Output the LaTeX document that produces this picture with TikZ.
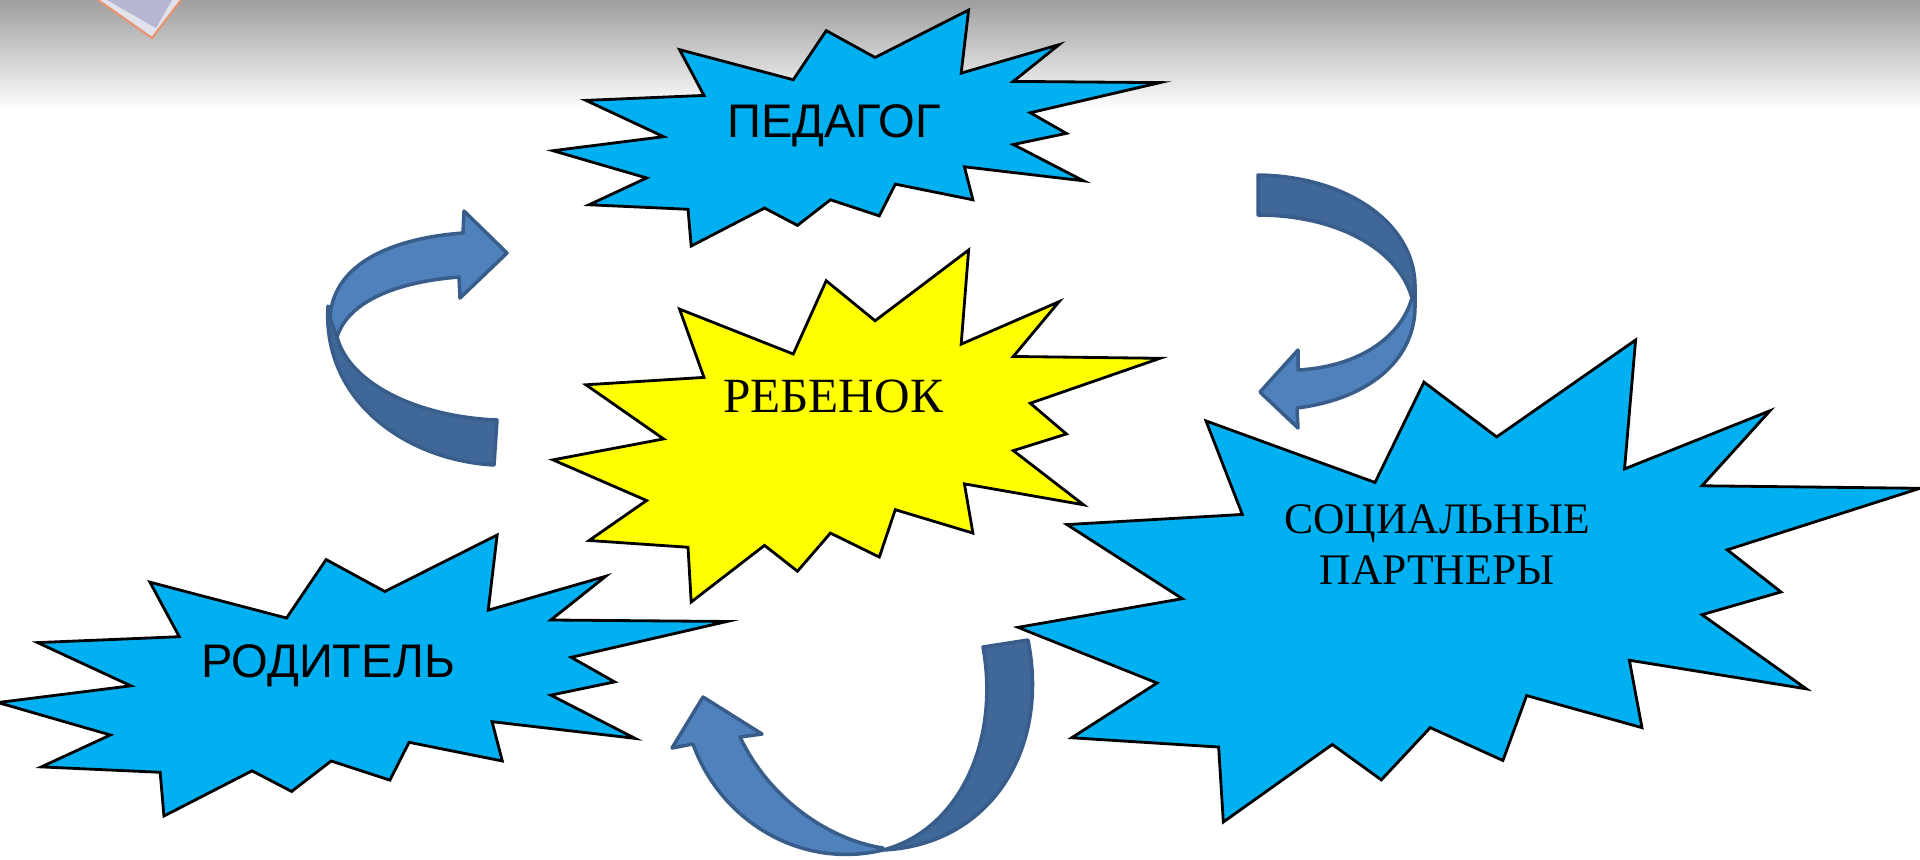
\documentclass[tikz,border=0pt]{standalone}
\usepackage{fontspec}
\setmainfont{Liberation Serif}
\setsansfont{Liberation Sans}
\usepackage{tikz}
\usepackage{xcolor}
\definecolor{sealblue}{HTML}{00B0F0}
\definecolor{sealyellow}{HTML}{FFFF00}
\definecolor{arrowfront}{HTML}{4F81BD}
\definecolor{arrowback}{HTML}{3F6797}
\definecolor{arrowline}{HTML}{385D8A}
\definecolor{bevelline}{HTML}{E8946E}
\definecolor{beveltop}{HTML}{B4B6D2}
\definecolor{bevelside}{HTML}{E2E2EC}
\newcommand{\sealshape}[5]{%
\draw [seal-a, fill=#1, shift={(#2,#3)}, xscale=#4/216, yscale=#5/216]
  (114.62,43.42) -- (147.90,0) -- (145.25,57.77) -- (180.07,31.72) -- (163.80,65.32)
  -- (216,66.45) -- (169.85,94.02) -- (182.70,112.90) -- (163.80,123.10) -- (188.77,156.32)
  -- (146.40,143.50) -- (149.42,173.70) -- (121.80,159.35) -- (116.12,188.42) -- (98.72,173.70)
  -- (87.00,197.12) -- (75.27,181.25) -- (49.17,216) -- (48.05,182.40) -- (12.85,178.25)
  -- (33.30,153.70) -- (0,128.77) -- (39.35,115.92) -- (11.72,82.70) -- (53.72,78.17)
  -- (45.02,36.25) -- (85.50,63.82) -- (97.22,18.87) -- cycle;}

\begin{document}
\begin{tikzpicture}
[
x=0.01cm, y=-0.01cm,
seal-a/.style={draw=black, line width=0.8pt, line join=miter},
text-a/.style={black, anchor=base, font=\sffamily\fontsize{13.4}{16}\selectfont},
text-b/.style={black, anchor=base, font=\rmfamily\fontsize{14}{17}\selectfont},
text-c/.style={black, align=center, font=\rmfamily\fontsize{12.4}{14.5}\selectfont},
arrow-front/.style={fill=arrowfront, draw=arrowline, line width=1pt, line join=round},
arrow-back/.style={fill=arrowback, draw=arrowline, line width=1pt, line join=round}
]
\useasboundingbox (0,0) rectangle (1920,859);
\shade [top color=black!38, bottom color=white] (0,0) rectangle (1920,110);
\draw [fill=bevelside, draw=bevelline, line width=0.6pt] (98,0) -- (152,38) -- (181,0);
\fill [beveltop] (107,0) -- (156,28) -- (172,0) -- cycle;

\sealshape{sealblue}{553}{10}{607}{236}
\sealshape{sealyellow}{553}{250}{607}{352}
\sealshape{sealblue}{-2}{535}{729}{281}
\sealshape{sealblue}{1018}{340}{902}{482}

\draw [arrow-back]  (328,306) .. controls (322,400) and (405,460) .. (494,465) -- (497,420)
                    .. controls (420,417) and (350,385) .. (337,337) -- cycle;
\draw [arrow-front] (330,318) .. controls (333,262) and (395,238) .. (463,233) -- (464,211)
                    -- (507,253) -- (460,298) -- (459,277)
                    .. controls (395,282) and (348,302) .. (337,337) -- cycle;

\draw [arrow-back]  (1258,175) .. controls (1345,176) and (1414,222) .. (1415,285) -- (1412,298)
                    .. controls (1398,248) and (1335,215) .. (1258,215) -- cycle;
\draw [arrow-front] (1415,285) -- (1415,305) .. controls (1416,355) and (1375,398) .. (1297,408)
                    -- (1298,428) -- (1260,392) -- (1298,350) -- (1298,370)
                    .. controls (1355,367) and (1400,340) .. (1412,298) -- cycle;

\draw [arrow-back]  (983,647) -- (1028,640) .. controls (1050,750) and (990,845) .. (883,850)
                    .. controls (960,830) and (1000,740) .. (983,647) -- cycle;
\draw [arrow-front] (883,850) .. controls (800,870) and (720,820) .. (693,744) -- (672,748)
                    -- (703,697) -- (762,734) -- (740,737)
                    .. controls (770,800) and (830,840) .. (883,848) -- cycle;

\node (pedagog)  [text-a] at (834,137)  {ПЕДАГОГ};
\node (rebenok)  [text-b] at (833,412)  {РЕБЕНОК};
\node (roditel)  [text-a] at (328,677)  {РОДИТЕЛЬ};
\node (partnery) [text-c] at (1437,545) {СОЦИАЛЬНЫЕ\\ПАРТНЕРЫ};
\end{tikzpicture}
\end{document}
